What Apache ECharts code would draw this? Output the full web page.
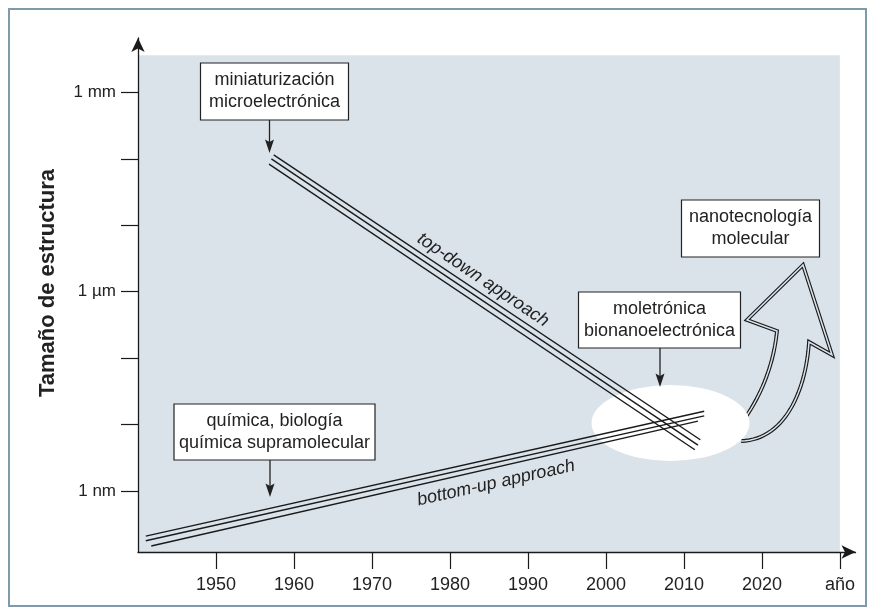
<!DOCTYPE html>
<html>
<head>
<meta charset="utf-8">
<script src="https://cdn.jsdelivr.net/npm/echarts@6/dist/echarts.min.js"></script>
<style>
  html, body { margin: 0; padding: 0; background: #fff; }
  #chart { width: 875px; height: 615px; }
</style>
</head>
<body>
<div id="chart"></div>
<script>
// years on x, log10(size in metres) on y
const yearTicks = [1950, 1960, 1970, 1980, 1990, 2000, 2010, 2020, 2030];
const sizeTicks = [-9, -8, -7, -6, -5, -4, -3];
const sizeLabels = { '-9': '1 nm', '-6': '1 µm', '-3': '1 mm' };

// top-down approach: three parallel strokes
const topDownA = [[1957.4, -3.94], [2012.1, -8.23]];
const topDownB = [[1957.1, -4.00], [2011.8, -8.31]];
const topDownC = [[1956.8, -4.08], [2011.4, -8.38]];
// bottom-up approach: three parallel strokes
const bottomUpA = [[1941.0, -9.68], [2012.6, -7.80]];
const bottomUpB = [[1941.0, -9.75], [2012.6, -7.87]];
const bottomUpC = [[1941.7, -9.83], [2011.8, -7.95]];

const ink = '#1a1a1a';
const panel = '#dbe3ea';
const font = '"Liberation Sans", Arial, Helvetica, sans-serif';

let chart = echarts.init(document.getElementById('chart'));

function strokeSeries(data) {
	return {
		type: 'line',
		data: data,
		symbol: 'none',
		z: 10,
		silent: true,
		lineStyle: { color: ink, width: 1.4 }
	};
}

function box(cx, top, w, h, lines) {
	return {
		type: 'group',
		z: 20,
		children: [
			{ type: 'rect', shape: { x: cx - w / 2, y: top, width: w, height: h }, style: { fill: '#fff', stroke: '#222', lineWidth: 1.2 }, z: 20 },
			{ type: 'text', x: cx, y: top + h / 2, z: 21, style: { text: lines.join('\n'), font: '18px ' + font, fill: '#222', align: 'center', verticalAlign: 'middle', lineHeight: 22 } }
		]
	};
}

function pointer(x, y1, y2) {
	return {
		type: 'group',
		z: 20,
		children: [
			{ type: 'line', shape: { x1: x, y1: y1, x2: x, y2: y2 - 10 }, style: { stroke: '#222', lineWidth: 1.3 }, z: 20 },
			{ type: 'polygon', shape: { points: [[x - 4.5, y2 - 13.5], [x, y2 - 11], [x + 4.5, y2 - 13.5], [x, y2]] }, style: { fill: '#222' }, z: 20 }
		]
	};
}

// outline of the big curved arrow, sampled into one polyline
function quad(a, c, b, n) {
	let pts = [];
	for (let i = 0; i <= n; i++) {
		let t = i / n, u = 1 - t;
		pts.push([u * u * a[0] + 2 * u * t * c[0] + t * t * b[0], u * u * a[1] + 2 * u * t * c[1] + t * t * b[1]]);
	}
	return pts;
}
function cubic(a, c1, c2, b, n) {
	let pts = [];
	for (let i = 0; i <= n; i++) {
		let t = i / n, u = 1 - t;
		pts.push([
			u * u * u * a[0] + 3 * u * u * t * c1[0] + 3 * u * t * t * c2[0] + t * t * t * b[0],
			u * u * u * a[1] + 3 * u * u * t * c1[1] + 3 * u * t * t * c2[1] + t * t * t * b[1]
		]);
	}
	return pts;
}
let arrowPts = quad([743, 421], [772, 380], [777, 331], 20)
	.concat([[747, 320], [803, 265], [832, 355]])
	.concat(cubic([809, 342], [806, 390], [785, 440], [741, 441], 30));

var option = {
	animation: false,
	grid: { left: 138, right: 19.5, top: 38, bottom: 63 },
	xAxis: {
		type: 'value',
		min: 1940,
		max: 2032,
		interval: 10,
		splitLine: { show: false },
		axisLine: { lineStyle: { color: ink, width: 1.3 }, symbol: ['none', 'arrow'], symbolSize: [10, 14] },
		axisTick: { customValues: yearTicks, length: 17, lineStyle: { color: ink, width: 1.2 } },
		axisLabel: {
			customValues: yearTicks, margin: 24, color: '#222', fontSize: 18, fontFamily: font,
			formatter: v => v === 2030 ? 'año' : String(v)
		}
	},
	yAxis: {
		type: 'value',
		min: -9.92,
		max: -2.18,
		splitLine: { show: false },
		axisLine: { onZero: false, lineStyle: { color: ink, width: 1.3 }, symbol: ['none', 'arrow'], symbolSize: [10, 14] },
		axisTick: { customValues: sizeTicks, length: 17, lineStyle: { color: ink, width: 1.2 } },
		axisLabel: {
			customValues: [-9, -6, -3], margin: 22, color: '#222', fontSize: 17, fontFamily: font,
			formatter: v => sizeLabels[String(v)] || ''
		}
	},
	series: [
		strokeSeries(topDownA), strokeSeries(topDownB), strokeSeries(topDownC),
		strokeSeries(bottomUpA), strokeSeries(bottomUpB), strokeSeries(bottomUpC)
	]
};
chart.setOption(option);

// panel background spans 1940-2030 and up to about 3.6 mm
let p0 = chart.convertToPixel({ gridIndex: 0 }, [1940, -9.92]);
let p1 = chart.convertToPixel({ gridIndex: 0 }, [2030, -2.44]);

chart.setOption({
	graphic: [
		{ type: 'rect', z: -5, shape: { x: 9, y: 9, width: 857, height: 597 }, style: { fill: 'none', stroke: '#7f9aab', lineWidth: 2 } },
		{ type: 'rect', z: 0, shape: { x: p0[0] + 1, y: p1[1], width: p1[0] - p0[0] - 1, height: p0[1] - p1[1] }, style: { fill: panel } },
		{ type: 'polyline', z: 1, shape: { points: arrowPts }, style: { fill: 'none', stroke: ink, lineWidth: 3.8, lineJoin: 'miter' } },
		{ type: 'polyline', z: 1, shape: { points: arrowPts }, style: { fill: 'none', stroke: panel, lineWidth: 1.5, lineJoin: 'miter' } },
		{ type: 'circle', z: 2, x: 670.5, y: 423, scaleY: 38 / 79, shape: { cx: 0, cy: 0, r: 79 }, style: { fill: '#fff' } },
		{ type: 'text', z: 20, x: 48, y: 283, rotation: Math.PI / 2, style: { text: 'Tamaño de estructura', font: 'bold 22px ' + font, fill: '#222', align: 'center', verticalAlign: 'middle' } },
		{ type: 'text', z: 20, x: 483, y: 280, rotation: -0.59, style: { text: 'top-down approach', font: 'italic 18px ' + font, fill: '#222', align: 'center', verticalAlign: 'middle' } },
		{ type: 'text', z: 20, x: 496, y: 483, rotation: 0.22, style: { text: 'bottom-up approach', font: 'italic 18px ' + font, fill: '#222', align: 'center', verticalAlign: 'middle' } },
		box(274.5, 63, 148, 57, ['miniaturización', 'microelectrónica']),
		pointer(269.5, 120, 153),
		box(659.5, 292, 162, 56, ['moletrónica', 'bionanoelectrónica']),
		pointer(660, 348, 387),
		box(274.5, 404, 201, 56, ['química, biología', 'química supramolecular']),
		pointer(270, 460, 497),
		box(750.5, 200, 138, 57, ['nanotecnología', 'molecular'])
	]
});
</script>
</body>
</html>
